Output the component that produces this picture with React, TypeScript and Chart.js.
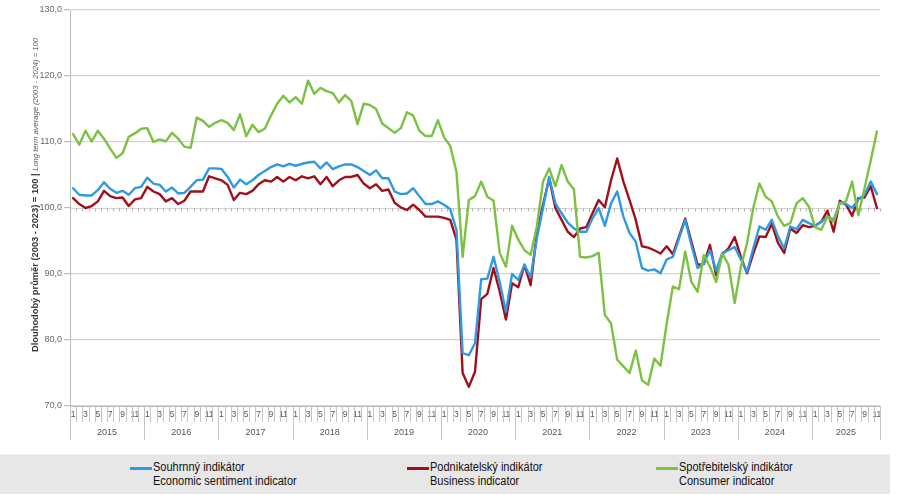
import React, { useEffect, useRef } from 'react';
import { Chart, registerables } from 'chart.js';

Chart.register(...registerables);

const YEARS = ['2015', '2016', '2017', '2018', '2019', '2020', '2021', '2022', '2023', '2024', '2025'];
const MONTHS = ['1', '2', '3', '4', '5', '6', '7', '8', '9', '10', '11', '12'];
const LAST_MONTH_COUNT = 131; // Jan 2015 .. Nov 2025

const Y_TICKS_MIN = 70;
const Y_TICKS_MAX = 130;
const Y_TICKS_STEP = 10;

const COMPOSITE = [
  103.0, 102.0, 101.9, 101.9, 102.7, 103.9, 102.9, 102.3, 102.6, 102.0, 103.0, 103.2,
  104.6, 103.7, 103.5, 102.5, 103.1, 102.2, 102.3, 103.2, 104.2, 104.3, 106.0, 106.0,
  105.9, 104.7, 103.1, 104.3, 103.6, 104.2, 105.0, 105.6, 106.2, 106.6, 106.3, 106.7,
  106.4, 106.7, 106.9, 107.0, 106.0, 106.9, 105.9, 106.3, 106.6, 106.6, 106.2, 105.6,
  105.0, 105.7, 104.5, 104.5, 102.5, 102.1, 102.2, 103.0, 101.8, 100.6, 100.6, 101.0,
  100.5, 99.8, 96.7, 78.0, 77.7, 79.5, 89.2, 89.3, 92.6, 88.8, 84.3, 90.0,
  89.1, 91.4, 89.5, 95.4, 100.0, 104.7, 100.7, 99.2, 97.8, 96.9, 96.4, 96.4,
  98.4, 100.0, 97.3, 100.7, 102.5, 98.7, 96.2, 94.9, 90.9, 90.5, 90.7, 90.1,
  92.2, 92.6, 95.4, 98.2, 94.4, 90.9, 91.6, 93.6, 90.5, 93.2, 93.6, 94.1,
  92.2, 90.3, 93.9, 97.2, 96.7, 98.2, 95.7, 93.9, 97.2, 96.8, 98.2, 97.7,
  97.3, 97.9, 98.7, 98.2, 100.8, 100.6, 100.0, 101.3, 102.0, 104.0, 102.1,
];

const BUSINESS = [
  101.5, 100.6, 100.0, 100.3, 101.0, 102.6, 101.8, 101.5, 101.6, 100.3, 101.3, 101.5,
  103.2, 102.5, 102.1, 101.0, 101.5, 100.6, 101.1, 102.5, 102.5, 102.5, 104.8, 104.5,
  104.2, 103.5, 101.2, 102.3, 102.1, 102.6, 103.6, 104.2, 104.0, 104.7, 104.0, 104.7,
  104.2, 104.8, 104.5, 104.8, 103.6, 104.7, 103.3, 104.2, 104.7, 104.7, 105.0, 103.7,
  103.0, 103.6, 102.6, 102.8, 100.8, 100.1, 99.7, 100.5, 99.7, 98.7, 98.7, 98.7,
  98.5, 98.2, 95.2, 75.0, 72.9, 75.2, 86.2, 87.0, 90.9, 87.3, 83.1, 88.6,
  88.0, 91.4, 88.3, 96.1, 100.5, 104.5, 100.0, 98.2, 96.4, 95.6, 96.9, 97.1,
  99.2, 101.2, 100.1, 104.2, 107.5, 104.0, 101.2, 98.2, 94.2, 94.0, 93.6, 93.1,
  94.2, 93.0, 95.7, 98.4, 94.9, 91.4, 91.5, 94.4, 89.8, 93.0, 93.9, 95.6,
  92.6, 90.1, 93.1, 95.7, 95.6, 97.6, 94.7, 93.2, 96.9, 96.2, 97.4, 97.1,
  97.3, 97.9, 99.6, 96.4, 101.1, 100.5, 98.8, 101.5, 101.6, 103.3, 100.0,
];

const CONSUMER = [
  111.2, 109.6, 111.7, 110.1, 111.7, 110.5, 109.0, 107.6, 108.3, 110.8, 111.3, 112.0,
  112.1, 110.0, 110.4, 110.1, 111.4, 110.5, 109.3, 109.1, 113.7, 113.2, 112.3, 112.9,
  113.3, 112.9, 111.8, 114.2, 110.9, 112.6, 111.5, 112.0, 114.0, 115.8, 117.0, 116.0,
  116.8, 115.8, 119.3, 117.3, 118.2, 117.7, 117.4, 116.0, 117.1, 116.2, 112.7, 115.8,
  115.6, 115.0, 112.8, 112.1, 111.4, 112.1, 114.5, 114.0, 111.7, 110.9, 110.9, 113.3,
  110.7, 109.4, 105.5, 92.6, 101.2, 101.8, 104.0, 101.7, 101.1, 93.2, 91.1, 97.3,
  95.2, 93.6, 92.9, 97.2, 104.0, 106.0, 103.3, 106.5, 104.0, 102.8, 92.6, 92.5,
  92.7, 93.2, 83.8, 82.5, 77.0, 76.0, 75.0, 78.4, 73.9, 73.2, 77.2, 76.1,
  82.5, 88.1, 87.7, 93.4, 88.8, 87.3, 92.9, 91.1, 88.8, 93.1, 91.4, 85.6,
  91.1, 94.7, 100.0, 103.7, 101.7, 101.0, 98.7, 97.3, 97.7, 100.7, 101.5, 100.2,
  97.1, 96.7, 98.7, 97.9, 100.7, 101.0, 104.0, 98.9, 103.0, 107.2, 111.6,
];

const SERIES_NAMES_CZ = ['Souhrnný indikátor', 'Podnikatelský indikátor', 'Spotřebitelský indikátor'];
const SERIES_NAMES_EN = ['Economic sentiment indicator', 'Business indicator', 'Consumer indicator'];
const SERIES_COLORS = ['#2f9ae2', '#a0101c', '#7cc143'];

const Y_TITLE_BOLD = 'Dlouhodobý průměr (2003 - 2023) = 100 | ';
const Y_TITLE_ITALIC = 'Long term average (2003 - 2024) = 100';

const LABELS = YEARS.flatMap((y) => MONTHS.map((m) => `${m}/${y}`)).slice(0, LAST_MONTH_COUNT);

const FONT = "'Liberation Sans', Arial, sans-serif";

const axisDecor = {
  id: 'axisDecor',
  beforeDatasetsDraw(chart: any) {
    const ctx = chart.ctx;
    const xs = chart.scales.x;
    const ys = chart.scales.y;
    const n = LABELS.length;
    const w = (xs.right - xs.left) / n;
    const bottom = ys.bottom;
    const y100 = Math.round(ys.getPixelForValue(100)) + 0.5;
    const boundary = (k: number) =>
      Math.round(xs.getPixelForValue(Math.min(k, n - 1)) + (k === n ? w / 2 : -w / 2)) + 0.5;
    ctx.save();
    ctx.strokeStyle = '#d2d2d2';
    ctx.lineWidth = 1;
    ctx.beginPath();
    ctx.moveTo(xs.left, y100);
    ctx.lineTo(xs.right, y100);
    ctx.stroke();
    ctx.strokeStyle = '#b0b0b0';
    ctx.beginPath();
    for (let k = 0; k <= n; k++) {
      const x = boundary(k);
      ctx.moveTo(x, y100);
      ctx.lineTo(x, y100 + 3);
    }
    ctx.stroke();
    ctx.strokeStyle = '#c4c4c4';
    ctx.beginPath();
    for (let k = 0; k <= n; k++) {
      const x = boundary(k);
      const long = k % 12 === 0 || k === n;
      ctx.moveTo(x, bottom);
      ctx.lineTo(x, bottom + (long ? 34 : 16));
    }
    ctx.stroke();
    ctx.fillStyle = '#555';
    ctx.font = `9px ${FONT}`;
    ctx.textAlign = 'center';
    ctx.textBaseline = 'middle';
    YEARS.forEach((yr, j) => {
      const a = j * 12;
      if (a > n - 1) return;
      const b = Math.min(a + 11, n - 1);
      const xa = xs.getPixelForValue(a) - w / 2;
      const xb = xs.getPixelForValue(b) + w / 2;
      ctx.fillText(yr, (xa + xb) / 2, bottom + 27);
    });
    ctx.restore();
  },
};

export default function App() {
  const ref = useRef<HTMLCanvasElement | null>(null);

  useEffect(() => {
    if (!ref.current) return;
    const chart = new Chart(ref.current, {
      type: 'line',
      data: {
        labels: LABELS,
        datasets: [
          { label: SERIES_NAMES_CZ[2], data: CONSUMER, borderColor: SERIES_COLORS[2] },
          { label: SERIES_NAMES_CZ[0], data: COMPOSITE, borderColor: SERIES_COLORS[0] },
          { label: SERIES_NAMES_CZ[1], data: BUSINESS, borderColor: SERIES_COLORS[1] },
        ],
      },
      options: {
        animation: false,
        responsive: false,
        maintainAspectRatio: false,
        layout: { padding: { top: 10, right: 20, left: 0, bottom: 0 } },
        plugins: { legend: { display: false }, tooltip: { enabled: false } },
        elements: {
          point: { radius: 0 },
          line: { tension: 0, borderWidth: 2.4, borderJoinStyle: 'round', borderCapStyle: 'round' },
        },
        scales: {
          x: {
            type: 'category',
            offset: true,
            grid: { display: true, drawOnChartArea: false, drawTicks: false },
            border: { display: true, color: '#bdbdbd' },
            ticks: {
              autoSkip: false,
              maxRotation: 0,
              minRotation: 0,
              padding: 4,
              color: '#555',
              font: { size: 8.5, family: FONT },
              callback: (_v: any, idx: number) => (idx % 2 === 0 ? String((idx % 12) + 1) : ''),
            },
            afterFit: (s: any) => {
              s.height = 42;
            },
          },
          y: {
            min: Y_TICKS_MIN,
            max: Y_TICKS_MAX,
            ticks: {
              stepSize: Y_TICKS_STEP,
              padding: 2,
              color: '#666',
              font: { size: 9, family: FONT },
              callback: (v: any) => Number(v).toFixed(1).replace('.', ','),
            },
            grid: {
              color: (c: any) => (c.tick && c.tick.value === 100 ? 'rgba(0,0,0,0)' : '#d4d4d4'),
              lineWidth: 1.2,
              tickColor: '#bdbdbd',
              tickLength: 6,
            },
            border: { display: true, color: '#bdbdbd' },
            afterFit: (s: any) => {
              s.width = 70;
            },
          },
        },
      },
      plugins: [axisDecor],
    } as any);
    return () => chart.destroy();
  }, []);

  const legendItem = (i: number, left: number) => (
    <div key={i} style={{ position: 'absolute', left, top: 460, height: 30 }}>
      <div
        style={{
          position: 'absolute',
          left: 0,
          top: 7,
          width: 22,
          height: 3,
          background: SERIES_COLORS[i],
        }}
      />
      <div
        style={{
          position: 'absolute',
          left: 23,
          top: 0,
          whiteSpace: 'nowrap',
          fontFamily: FONT,
          fontSize: 12.5,
          lineHeight: '14px',
          color: '#111',
          transform: 'scaleX(0.88)',
          transformOrigin: 'left top',
        }}
      >
        {SERIES_NAMES_CZ[i]}
        <br />
        {SERIES_NAMES_EN[i]}
      </div>
    </div>
  );

  return (
    <div
      style={{
        position: 'fixed',
        left: 0,
        top: 0,
        width: 900,
        height: 495,
        background: '#fff',
        overflow: 'hidden',
      }}
    >
      <canvas ref={ref} width={900} height={448} style={{ position: 'absolute', left: 0, top: 0, width: 900, height: 448 }} />
      <div
        style={{
          position: 'absolute',
          left: -167,
          top: 189,
          width: 400,
          height: 12,
          transform: 'rotate(-90deg)',
          textAlign: 'center',
          whiteSpace: 'nowrap',
          fontFamily: FONT,
          lineHeight: '12px',
        }}
      >
        <span style={{ fontWeight: 'bold', fontSize: 9.3, color: '#333' }}>{Y_TITLE_BOLD}</span>
        <span style={{ fontStyle: 'italic', fontSize: 7.6, color: '#555' }}>{Y_TITLE_ITALIC}</span>
      </div>
      <div
        style={{
          position: 'absolute',
          left: 0,
          top: 454,
          width: 890,
          height: 39,
          background: '#e7e7e7',
          borderTop: '1px solid #f0f0f0',
        }}
      />
      {legendItem(0, 130)}
      {legendItem(1, 407)}
      {legendItem(2, 656)}
    </div>
  );
}
